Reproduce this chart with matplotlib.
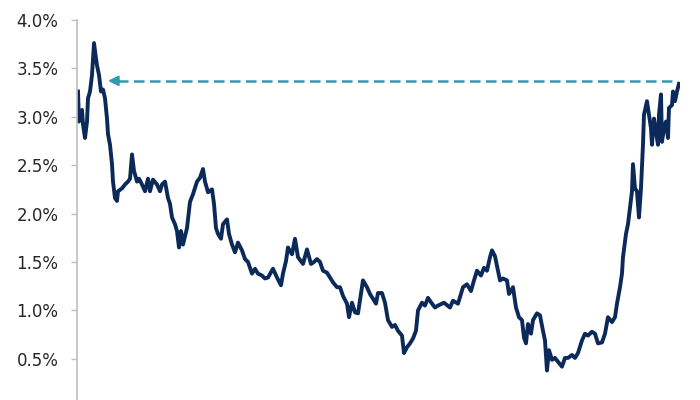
import matplotlib
matplotlib.use("Agg")
import matplotlib.pyplot as plt
from matplotlib.ticker import FuncFormatter

# time position (arbitrary units along the x axis) and yield values (%)
t = [1, 2, 3, 5, 6, 8, 10, 11, 13, 15, 17, 19, 20, 22, 24, 26, 28, 30, 31, 33,
     35, 36, 38, 40, 41, 45, 48, 51, 53, 55, 57, 60, 62, 65, 68, 71, 73, 76, 80, 83,
     85, 88, 91, 93, 95, 98, 100, 102, 104, 106, 110, 113, 116, 120, 123, 126, 128, 131, 135, 137,
     139, 141, 144, 146, 150, 152, 155, 158, 161, 165, 168, 171, 175, 178, 181, 185, 188, 191, 196, 200,
     204, 206, 209, 211, 215, 218, 221, 226, 230, 234, 237, 240, 243, 246, 250, 253, 256, 260, 263, 266,
     270, 272, 275, 278, 281, 284, 286, 290, 293, 296, 299, 301, 305, 308, 311, 315, 318, 321, 325, 327,
     330, 333, 336, 339, 341, 345, 348, 351, 355, 358, 361, 367, 373, 376, 381, 386, 390, 394, 397, 400,
     404, 407, 410, 413, 415, 418, 421, 423, 426, 430, 432, 436, 439, 442, 445, 447, 449, 451, 454, 456,
     460, 463, 466, 468, 470, 472, 475, 478, 481, 485, 488, 491, 495, 498, 501, 505, 508, 511, 515, 518,
     521, 525, 528, 531, 535, 538, 540, 543, 545, 546, 549, 551, 553, 555, 556, 558, 560, 562, 564, 566,
     567, 570, 572, 574, 575, 577, 579, 581, 582, 584, 585, 587, 589, 591, 592, 595, 596, 598, 600, 602]
yield_pct = [3.26, 2.95, 3.00, 3.07, 2.92, 2.78, 2.95, 3.19, 3.26, 3.43, 3.76, 3.60, 3.53, 3.43, 3.26, 3.28, 3.19, 2.98, 2.82, 2.71,
             2.51, 2.33, 2.16, 2.13, 2.23, 2.26, 2.30, 2.33, 2.36, 2.61, 2.44, 2.33, 2.36, 2.30, 2.23, 2.36, 2.23, 2.35, 2.30, 2.23,
             2.30, 2.33, 2.16, 2.10, 1.96, 1.89, 1.82, 1.65, 1.82, 1.68, 1.85, 2.12, 2.20, 2.33, 2.37, 2.46, 2.33, 2.22, 2.25, 2.10,
             1.85, 1.79, 1.74, 1.89, 1.94, 1.79, 1.68, 1.60, 1.70, 1.62, 1.53, 1.50, 1.38, 1.43, 1.38, 1.36, 1.33, 1.34, 1.43, 1.34,
             1.26, 1.38, 1.51, 1.65, 1.58, 1.74, 1.55, 1.48, 1.63, 1.48, 1.50, 1.53, 1.50, 1.41, 1.39, 1.34, 1.29, 1.24, 1.24, 1.15,
             1.07, 0.93, 1.08, 0.98, 0.97, 1.17, 1.31, 1.24, 1.17, 1.12, 1.07, 1.18, 1.18, 1.08, 0.90, 0.83, 0.85, 0.79, 0.74, 0.56,
             0.62, 0.66, 0.71, 0.79, 1.00, 1.08, 1.05, 1.13, 1.07, 1.03, 1.05, 1.08, 1.03, 1.10, 1.07, 1.24, 1.27, 1.20, 1.31, 1.41,
             1.36, 1.44, 1.41, 1.55, 1.62, 1.56, 1.41, 1.31, 1.33, 1.31, 1.17, 1.24, 1.03, 0.93, 0.90, 0.72, 0.66, 0.86, 0.76, 0.90,
             0.97, 0.95, 0.79, 0.69, 0.38, 0.59, 0.49, 0.51, 0.47, 0.42, 0.51, 0.51, 0.54, 0.51, 0.56, 0.69, 0.76, 0.74, 0.78, 0.76,
             0.66, 0.67, 0.76, 0.93, 0.88, 0.93, 1.07, 1.24, 1.38, 1.55, 1.79, 1.89, 2.06, 2.23, 2.51, 2.26, 2.23, 1.96, 2.26, 2.71,
             3.02, 3.16, 3.02, 2.88, 2.71, 2.98, 2.85, 2.71, 3.02, 3.23, 2.74, 2.88, 2.95, 2.78, 3.09, 3.12, 3.26, 3.16, 3.26, 3.34]

# reference level arrow (current level back to the earlier peak)
ref_level = 3.37
ref_start = 595   # right end of the dashed line
ref_end = 31      # arrow tip

y_ticks = [0.0, 0.5, 1.0, 1.5, 2.0, 2.5, 3.0, 3.5, 4.0]

line_color = "#0B2A5A"
arrow_color = "#2E9AB0"
text_color = "#262626"
axis_color = "#BFBFBF"

fig = plt.figure(figsize=(7, 4), dpi=100)
ax = fig.add_axes([0.11, -0.0183, 0.8614, 0.9688])

ax.plot(t, yield_pct, color=line_color, lw=2.8, solid_joinstyle="round")

# dashed reference line with arrow head
ax.plot([ref_start, ref_end + 7], [ref_level, ref_level], color=arrow_color,
        lw=1.8, dashes=(4.2, 2.2))
ax.annotate("", xy=(ref_end, ref_level), xytext=(ref_end + 8, ref_level),
            arrowprops=dict(arrowstyle="-|>,head_length=0.6,head_width=0.3",
                            color=arrow_color, lw=1.5, shrinkA=0, shrinkB=0))

ax.set_xlim(0, 603)
ax.set_ylim(0, 4.0)
ax.set_yticks(y_ticks)
ax.yaxis.set_major_formatter(FuncFormatter(lambda v, p: f"{v:.1f}%"))
ax.set_xticks([])

for s in ["top", "right", "bottom"]:
    ax.spines[s].set_visible(False)
ax.spines["left"].set_color(axis_color)
ax.spines["left"].set_linewidth(1.2)
ax.tick_params(axis="y", direction="out", length=4.5, width=1, color=axis_color,
               pad=9, labelsize=12, labelcolor=text_color)

fig.savefig("out.png", dpi=100)
